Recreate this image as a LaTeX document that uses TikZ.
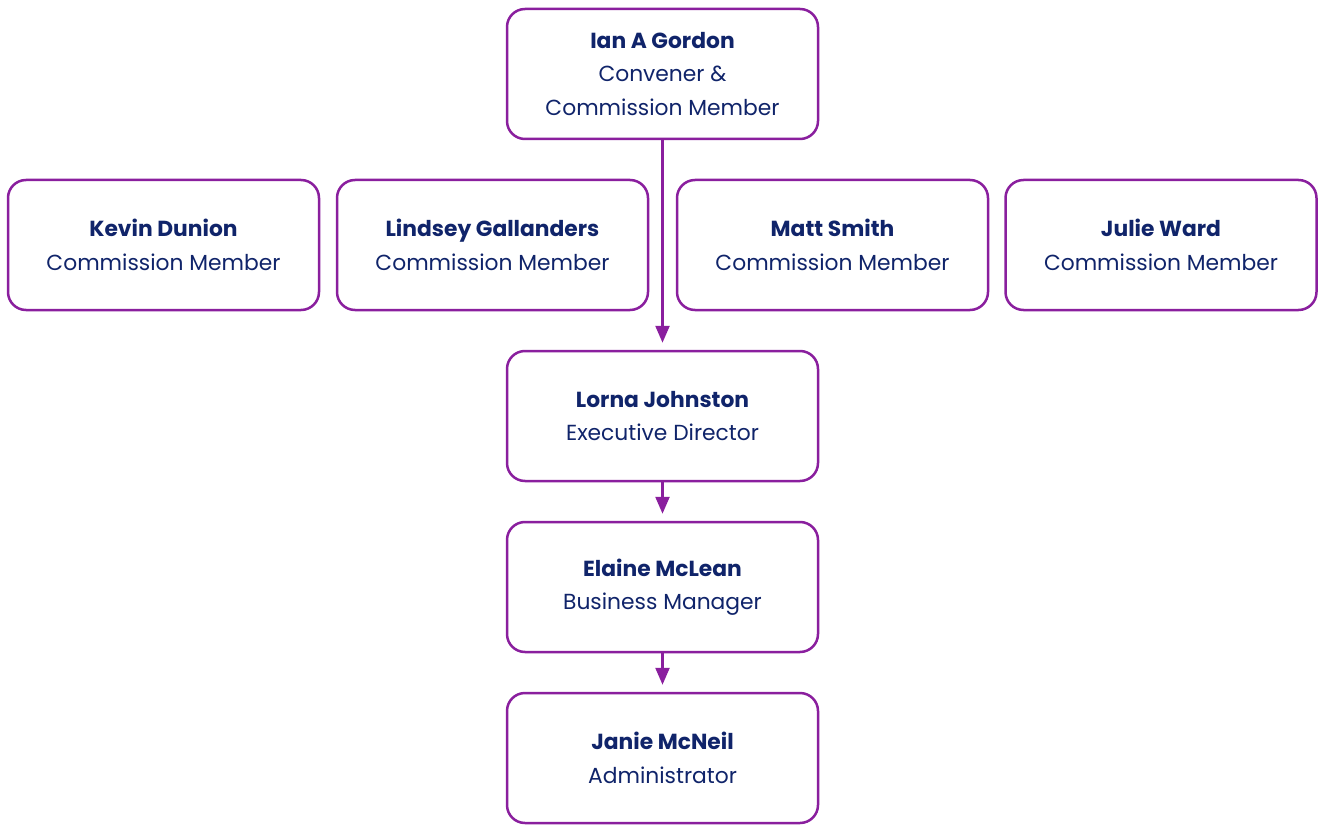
\documentclass[tikz,border=0pt]{standalone}
\usepackage{fontspec}
\setmainfont{Poppins}
\usetikzlibrary{arrows.meta}
\definecolor{boxline}{HTML}{8A1F9E}
\definecolor{inkblue}{HTML}{10246A}
\tikzset{
  person/.style={draw=boxline, line width=2.5pt, rounded corners=18pt, fill=white,
    minimum width=311pt, minimum height=130pt, inner sep=0pt,
    align=center, text=inkblue, font=\fontsize{21.8}{33.5}\selectfont},
  link/.style={draw=boxline, line width=2.5pt, shorten >=7pt,
    -{Triangle[length=17pt,width=14pt]}}
}
\newcommand{\who}[1]{\textbf{#1}}
\begin{document}
\begin{tikzpicture}[x=1pt,y=-1pt]
\useasboundingbox (0,0) rectangle (1322,826);
\node[person] (ian)     at (662.5,74)  {\who{Ian A Gordon}\\Convener \&\\Commission Member};
\node[person] (kevin)   at (163.5,245) {\who{Kevin Dunion}\\Commission Member};
\node[person] (lindsey) at (492.5,245) {\who{Lindsey Gallanders}\\Commission Member};
\node[person] (matt)    at (832.5,245) {\who{Matt Smith}\\Commission Member};
\node[person] (julie)   at (1161,245)  {\who{Julie Ward}\\Commission Member};
\node[person] (lorna)   at (662.5,416) {\who{Lorna Johnston}\\Executive Director};
\node[person] (elaine)  at (662.5,587) {\who{Elaine McLean}\\Business Manager};
\node[person] (janie)   at (662.5,758) {\who{Janie McNeil}\\Administrator};
\draw[link] (ian) -- (lorna);
\draw[link] (lorna) -- (elaine);
\draw[link] (elaine) -- (janie);
\end{tikzpicture}
\end{document}
